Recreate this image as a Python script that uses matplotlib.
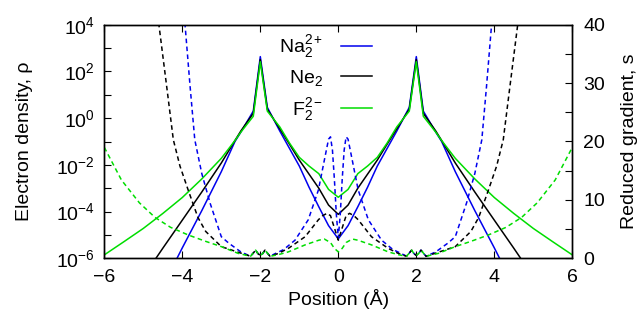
import matplotlib
matplotlib.use("Agg")
import matplotlib.pyplot as plt
from matplotlib.ticker import FixedLocator, FuncFormatter, NullLocator

plt.rcParams['font.family'] = ['Liberation Sans', 'DejaVu Sans']
plt.rcParams['mathtext.fontset'] = 'custom'
plt.rcParams['mathtext.rm'] = 'Liberation Sans'
plt.rcParams['mathtext.it'] = 'Liberation Sans:italic'
plt.rcParams['mathtext.bf'] = 'Liberation Sans:bold'

SPECIES = ["Na$_2^{2+}$", "Ne$_2$", "F$_2^{2-}$"]
COLORS = ["#0000ee", "#000000", "#00dd00"]

# electron density (left, log axis)
X_RHO = [-6.0, -5.5, -5.0, -4.5, -4.0, -3.5, -3.0, -2.65, -2.5, -2.18, -2.0, -1.82, -1.5, -1.25, -1.0,
         -0.75, -0.5, -0.25, 0.0, 0.25, 0.5, 0.75, 1.0, 1.25, 1.5, 1.82, 2.0, 2.18, 2.5, 2.65, 3.0,
         3.5, 4.0, 4.5, 5.0, 5.5, 6.0]
RHO_NA = [1e-12, 4e-11, 1.6e-9, 6.3e-8, 2.8e-6, 1.1e-4, 5.1e-3, 0.10, 0.25, 2.0, 430, 2.9, 0.28, 5.0e-2,
          8.9e-3, 1.1e-3, 1.6e-4, 2.5e-5, 6.8e-6, 2.5e-5, 1.6e-4, 1.1e-3, 8.9e-3, 5.0e-2, 0.28, 2.9,
          430, 2.0, 0.25, 0.10, 5.1e-3, 1.1e-4, 2.8e-6, 6.3e-8, 1.6e-9, 4e-11, 1e-12]
RHO_NE = [6.3e-10, 1.0e-8, 1.6e-7, 2.7e-6, 4.3e-5, 6.9e-4, 1.2e-2, 0.11, 0.28, 1.6, 320, 2.4, 0.35,
          7.6e-2, 1.6e-2, 4.0e-3, 1.0e-3, 1.9e-4, 7.6e-5, 1.9e-4, 1.0e-3, 4.0e-3, 1.6e-2, 7.6e-2, 0.35,
          2.4, 320, 1.6, 0.28, 0.11, 1.2e-2, 6.9e-4, 4.3e-5, 2.7e-6, 1.6e-7, 1.0e-8, 6.3e-10]
RHO_F = [1.4e-6, 5.1e-6, 1.9e-5, 8.3e-5, 4.0e-4, 2.5e-3, 1.9e-2, 0.11, 0.25, 1.2, 260, 2.0, 0.42,
         8.5e-2, 2.1e-2, 8.9e-3, 4.2e-3, 8.9e-4, 4.1e-4, 8.9e-4, 4.2e-3, 8.9e-3, 2.1e-2, 8.5e-2, 0.42,
         2.0, 260, 1.2, 0.25, 0.11, 1.9e-2, 2.5e-3, 4.0e-4, 8.3e-5, 1.9e-5, 5.1e-6, 1.4e-6]

# reduced gradient (right axis)
X_S_NA = [-4.1, -3.93, -3.8, -3.68, -3.5, -3.29, -3.0, -2.81, -2.5, -2.25, -2.18, -2.12, -2.06, -2.0,
          -1.94, -1.88, -1.82, -1.75, -1.62, -1.4, -1.11, -0.77, -0.51, -0.34, -0.25, -0.2, -0.15, -0.1,
          -0.05, 0.0, 0.05, 0.1, 0.15, 0.2, 0.25, 0.34, 0.51, 0.77, 1.11, 1.4, 1.62, 1.75, 1.82, 1.88,
          1.94, 2.0, 2.06, 2.12, 2.18, 2.25, 2.5, 2.81, 3.0, 3.29, 3.5, 3.68, 3.8, 3.93, 4.1]
S_NA = [58.0, 40.0, 29.4, 20.3, 14.5, 9.5, 3.7, 2.6, 1.1, 0.35, 0.9, 1.4, 0.8, 0.5, 0.8, 1.4, 0.9, 0.35,
        0.8, 1.5, 3.1, 6.6, 11.7, 17.4, 20.4, 20.8, 18.5, 13.5, 7.5, 3.5, 7.5, 13.5, 18.5, 20.8, 20.4,
        17.4, 11.7, 6.6, 3.1, 1.5, 0.8, 0.35, 0.9, 1.4, 0.8, 0.5, 0.8, 1.4, 0.9, 0.35, 1.1, 2.6, 3.7,
        9.5, 14.5, 20.3, 29.4, 40.0, 58.0]
X_S_NE = [-4.8, -4.6, -4.4, -4.23, -4.06, -3.85, -3.6, -3.4, -3.0, -2.48, -2.25, -2.18, -2.12, -2.06,
          -2.0, -1.94, -1.88, -1.82, -1.75, -1.55, -1.28, -0.85, -0.51, -0.4, -0.29, -0.2, -0.1, 0.0,
          0.1, 0.2, 0.29, 0.4, 0.51, 0.85, 1.28, 1.55, 1.75, 1.82, 1.88, 1.94, 2.0, 2.06, 2.12, 2.18,
          2.25, 2.48, 3.0, 3.4, 3.6, 3.85, 4.06, 4.23, 4.4, 4.6, 4.8]
S_NE = [55.0, 40.0, 29.4, 20.3, 15.8, 11.7, 7.0, 4.6, 2.0, 0.85, 0.35, 0.9, 1.4, 0.8, 0.5, 0.8, 1.4,
        0.9, 0.35, 0.8, 1.7, 3.7, 6.6, 7.3, 7.7, 7.3, 5.2, 3.1, 5.2, 7.3, 7.7, 7.3, 6.6, 3.7, 1.7, 0.8,
        0.35, 0.9, 1.4, 0.8, 0.5, 0.8, 1.4, 0.9, 0.35, 0.85, 2.0, 4.6, 7.0, 11.7, 15.8, 20.3, 29.4,
        40.0, 55.0]
X_S_F = [-6.0, -5.78, -5.56, -5.1, -4.7, -4.3, -3.85, -3.4, -3.0, -2.57, -2.25, -2.18, -2.12, -2.06,
         -2.0, -1.94, -1.88, -1.82, -1.75, -1.55, -1.28, -0.85, -0.5, -0.36, -0.2, -0.1, 0.0, 0.1, 0.2,
         0.36, 0.5, 0.85, 1.28, 1.55, 1.75, 1.82, 1.88, 1.94, 2.0, 2.06, 2.12, 2.18, 2.25, 2.57, 3.0,
         3.4, 3.85, 4.3, 4.7, 5.1, 5.56, 5.78, 6.0]
S_F = [19.0, 16.2, 13.4, 9.5, 7.0, 5.3, 4.0, 2.9, 2.0, 0.85, 0.35, 0.9, 1.4, 0.8, 0.5, 0.8, 1.4, 0.9,
       0.35, 0.6, 1.1, 2.3, 3.1, 3.3, 2.7, 1.7, 1.1, 1.7, 2.7, 3.3, 3.1, 2.3, 1.1, 0.6, 0.35, 0.9, 1.4,
       0.8, 0.5, 0.8, 1.4, 0.9, 0.35, 0.85, 2.0, 2.9, 4.0, 5.3, 7.0, 9.5, 13.4, 16.2, 19.0]

X_TICKS = [-6, -4, -2, 0, 2, 4, 6]
RHO_TICKS = [1e-6, 1e-5, 1e-4, 1e-3, 1e-2, 1e-1, 1e0, 1e1, 1e2, 1e3, 1e4]
S_TICKS = [0, 5, 10, 15, 20, 25, 30, 35, 40]

FS = 14
fig = plt.figure(figsize=(6.4, 3.2), dpi=100)
ax = fig.add_axes([104.3 / 640, 61.7 / 320, 468 / 640, 233.6 / 320])
ax2 = ax.twinx()

rho_sets = [RHO_NA, RHO_NE, RHO_F]
s_sets = [(X_S_NA, S_NA), (X_S_NE, S_NE), (X_S_F, S_F)]
lw = 1.1
handles = []
for name, col, rho, (xs, ss) in zip(SPECIES, COLORS, rho_sets, s_sets):
    h, = ax.plot(X_RHO, rho, color=col, lw=lw, label=name)
    handles.append(h)
    ax2.plot(xs, ss, color=col, lw=lw, dashes=(3, 2.2))

ax.set_xlim(-6, 6)
ax.set_yscale('log')
ax.set_ylim(1e-6, 1e4)
ax2.set_ylim(0, 40)

ax.xaxis.set_major_locator(FixedLocator(X_TICKS))
ax.xaxis.set_minor_locator(NullLocator())
ax.yaxis.set_major_locator(FixedLocator(RHO_TICKS))
ax.yaxis.set_minor_locator(NullLocator())


def rho_fmt(v, pos):
    import math
    e = int(round(math.log10(v)))
    if e % 2:
        return ""
    return r"$\mathdefault{10^{%s}}$" % (str(e).replace("-", "\u2212"))


ax.yaxis.set_major_formatter(FuncFormatter(rho_fmt))
ax.xaxis.set_major_formatter(FuncFormatter(lambda v, p: ("%d" % v).replace("-", "\u2212")))
ax2.yaxis.set_major_locator(FixedLocator(S_TICKS))
ax2.yaxis.set_major_formatter(FuncFormatter(lambda v, p: "%d" % v if v % 10 == 0 else ""))

ax.tick_params(axis='x', which='both', direction='in', top=True, length=5, width=0.8, pad=8, labelsize=FS)
ax.tick_params(axis='y', which='both', direction='in', left=True, right=False, length=5, width=0.8, pad=7, labelsize=FS)
ax2.tick_params(axis='y', direction='in', length=5, width=0.8, pad=8, labelsize=FS)
for a in (ax, ax2):
    for sp in a.spines.values():
        sp.set_linewidth(1.0)

ax.set_xlabel("Position (\u00c5)", fontsize=FS, labelpad=2)
ax.set_ylabel("Electron density, \u03c1", fontsize=FS)
ax.yaxis.set_label_coords(-0.152, 0.5)
ax2.set_ylabel("Reduced gradient, s", fontsize=FS, rotation=90)
ax2.yaxis.set_label_coords(1.104, 0.5)

leg = ax2.legend(handles=handles, loc='upper right', bbox_to_anchor=(0.572, 0.962),
                 frameon=False, markerfirst=False, fontsize=FS, handlelength=1.6,
                 handletextpad=0.9, labelspacing=0.4, borderaxespad=0, borderpad=0)

fig.savefig("out.png", dpi=100)
